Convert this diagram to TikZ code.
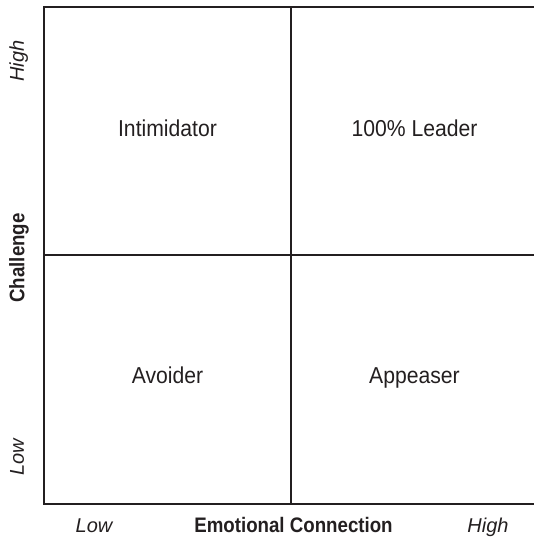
\documentclass[tikz,border=0pt]{standalone}
\usepackage{fontspec}
\setmainfont{Liberation Sans}
\usepackage{graphicx}
% condensed look for the labels
\newcommand{\narrowed}[2][0.92]{\scalebox{#1}[1]{#2}}

\begin{document}
\begin{tikzpicture}[x=1pt,y=1pt,
  quad/.style={anchor=base,text=ink,font=\fontsize{23}{27}\selectfont},
  axisname/.style={anchor=base,text=ink,font=\fontsize{21}{25}\selectfont\bfseries},
  level/.style={anchor=base,text=ink,font=\fontsize{20}{24}\selectfont\itshape}]
\definecolor{ink}{HTML}{231F20}
\useasboundingbox (0,0) rectangle (533,543);
% grid corners and centre
\coordinate (tl) at (43.5,536);
\coordinate (bl) at (43.5,39);
\coordinate (tr) at (534,536);
\coordinate (br) at (534,39);
\coordinate (top) at (291,536);
\coordinate (bot) at (291,39);
\coordinate (lmid) at (43.5,288);
\coordinate (rmid) at (534,288);
% frame, open to the right
\draw[ink,line width=2pt] (tr) -- (tl) -- (bl) -- (br);
\draw[ink,line width=1.4pt] (top) -- (bot);
\draw[ink,line width=1.4pt] (lmid) -- (rmid);
% quadrants
\node[quad] (intim) at (167.5,406) {\narrowed{Intimidator}};
\node[quad] (leader) at (414.5,406) {\narrowed{100\% Leader}};
\node[quad] (avoid) at (167.5,159) {\narrowed{Avoider}};
\node[quad] (appease) at (414.5,159) {\narrowed{Appeaser}};
% vertical axis
\node[level,rotate=90] (chigh) at (24,482) {High};
\node[axisname,rotate=90] (chall) at (24.5,285) {\narrowed[0.89]{Challenge}};
\node[level,rotate=90] (clow) at (24,86) {Low};
% horizontal axis
\node[level] (elow) at (94,10) {Low};
\node[axisname] (emo) at (293.5,10) {\narrowed[0.89]{Emotional Connection}};
\node[level] (ehigh) at (488,10) {High};
\end{tikzpicture}
\end{document}
